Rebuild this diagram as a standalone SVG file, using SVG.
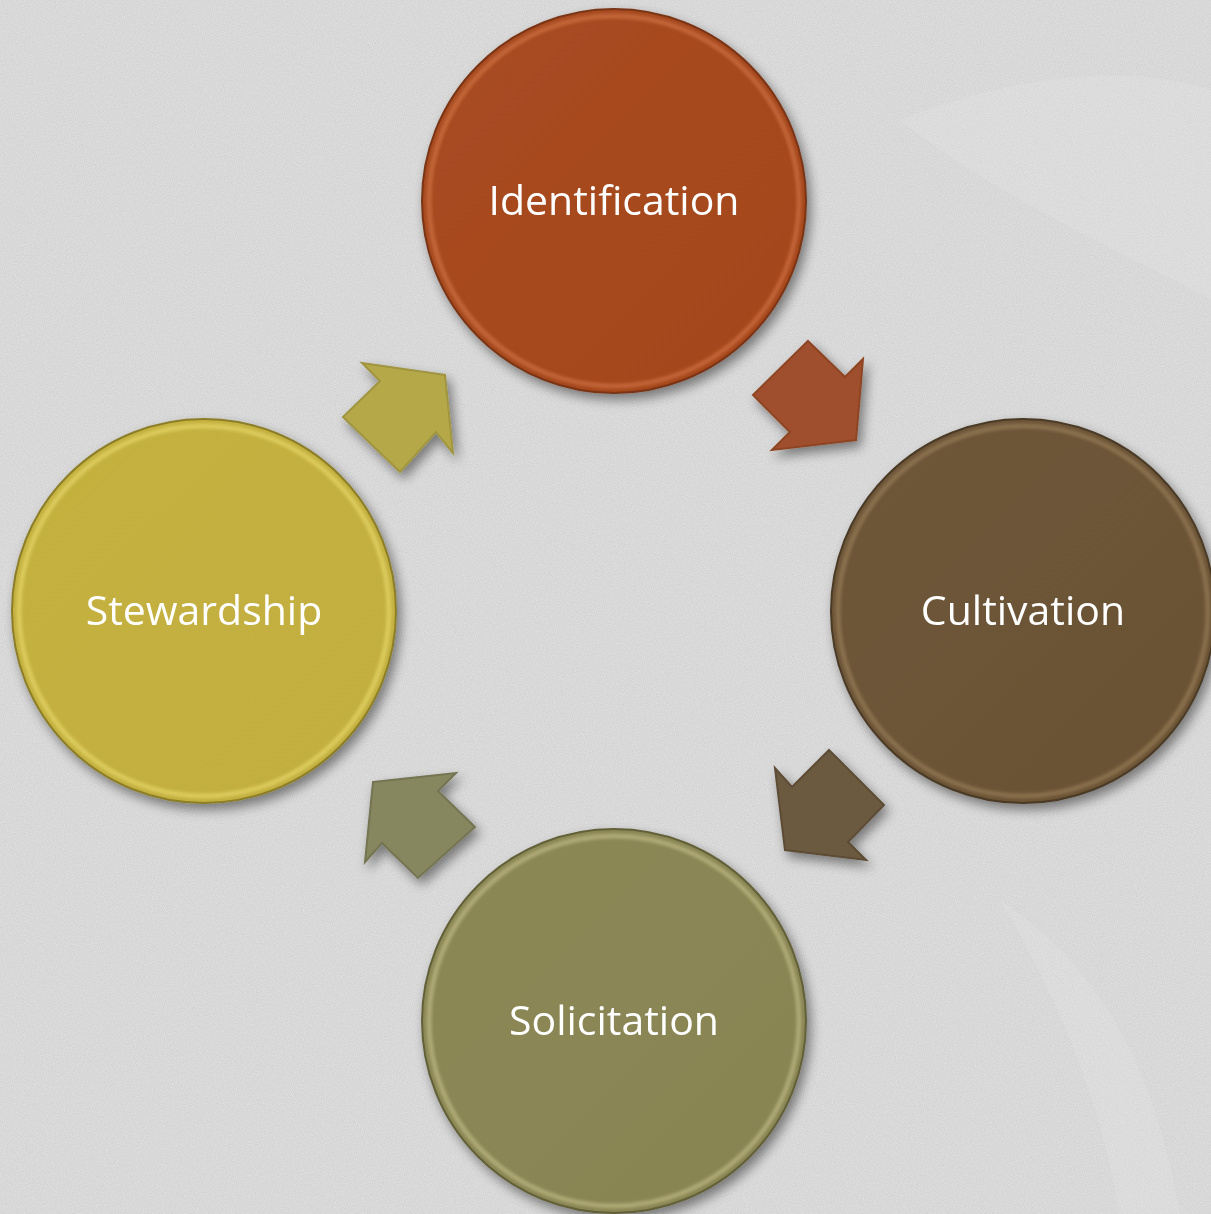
<svg xmlns="http://www.w3.org/2000/svg" width="1211" height="1214" viewBox="0 0 1211 1214">
<defs>
<filter id="tex" x="0" y="0" width="100%" height="100%">
<feTurbulence type="fractalNoise" baseFrequency="0.9" numOctaves="2" seed="3" result="n"/>
<feColorMatrix in="n" type="matrix" values="0 0 0 0 1  0 0 0 0 1  0 0 0 0 1  0 0 0 0.4 0" result="w"/>
<feComposite in="w" in2="SourceGraphic" operator="over"/>
</filter>
<filter id="sh" x="-20%" y="-20%" width="140%" height="140%">
<feGaussianBlur in="SourceAlpha" stdDeviation="6"/>
<feOffset dx="4" dy="6" result="b"/>
<feComponentTransfer><feFuncA type="linear" slope="0.45"/></feComponentTransfer>
<feMerge><feMergeNode/><feMergeNode in="SourceGraphic"/></feMerge>
</filter>
<filter id="soft"><feGaussianBlur stdDeviation="1.5"/></filter>
<linearGradient id="gI" x1="0" y1="0" x2="1" y2="1"><stop offset="0" stop-color="#a84c22"/><stop offset="1" stop-color="#a4461a"/></linearGradient>
<linearGradient id="gC" x1="0" y1="0" x2="1" y2="1"><stop offset="0" stop-color="#6e5639"/><stop offset="1" stop-color="#6a5234"/></linearGradient>
<linearGradient id="gS" x1="0" y1="0" x2="1" y2="1"><stop offset="0" stop-color="#8c8856"/><stop offset="1" stop-color="#888452"/></linearGradient>
<linearGradient id="gW" x1="0" y1="0" x2="1" y2="1"><stop offset="0" stop-color="#c4b13e"/><stop offset="1" stop-color="#c2af40"/></linearGradient>
</defs>
<style>
.lbl{font-family:"Open Sans","Noto Sans",sans-serif;font-size:41px;fill:#ffffff;text-anchor:middle}
.rim{fill:none;stroke-width:5}
.edge{stroke-width:2}
.arr{stroke-width:2;stroke-linejoin:miter}
</style>
<rect width="1211" height="1214" fill="#cdcdcd" filter="url(#tex)"/>
<g opacity="0.15" fill="#efefef">
<path d="M900 120 C1000 80 1120 60 1211 90 L1211 300 C1120 250 1000 200 900 120Z"/>
<path d="M1000 900 C1060 1000 1100 1100 1120 1214 L1180 1214 C1160 1100 1120 980 1000 900Z"/>
</g>
<g id="connectors">
<polygon class="arr" fill="#a0502e" stroke="#8e4424" points="808,341 845,377 863,359 856,440 772,450 790,432 753,395" filter="url(#sh)"/>
<polygon class="arr" fill="#b4a84a" stroke="#a09540" points="362,363 445,375 453,453 436,432 400,472 343,417 380,381" filter="url(#sh)"/>
<polygon class="arr" fill="#6c5a40" stroke="#5c4c35" points="829,750 884,805 848,842 866,860 785,850 775,768 792,787" filter="url(#sh)"/>
<polygon class="arr" fill="#86865f" stroke="#747452" points="373,782 456,773 438,791 475,827 418,878 382,843 365,862" filter="url(#sh)"/>
</g>
<g id="identification" filter="url(#sh)">
<circle cx="614" cy="201" r="192" fill="url(#gI)" stroke="#7a3414" class="edge"/>
<circle cx="614" cy="201" r="185" class="rim" stroke="#d47648" stroke-opacity="0.6" filter="url(#soft)"/>
<text class="lbl" x="614" y="215">Identification</text>
</g>
<g id="cultivation" filter="url(#sh)">
<circle cx="1023" cy="611" r="192" fill="url(#gC)" stroke="#4a3a26" class="edge"/>
<circle cx="1023" cy="611" r="185" class="rim" stroke="#9c825c" stroke-opacity="0.6" filter="url(#soft)"/>
<text class="lbl" x="1023" y="625">Cultivation</text>
</g>
<g id="solicitation" filter="url(#sh)">
<circle cx="614" cy="1021" r="192" fill="url(#gS)" stroke="#626038" class="edge"/>
<circle cx="614" cy="1021" r="185" class="rim" stroke="#c4c08a" stroke-opacity="0.6" filter="url(#soft)"/>
<text class="lbl" x="614" y="1035">Solicitation</text>
</g>
<g id="stewardship" filter="url(#sh)">
<circle cx="204" cy="611" r="192" fill="url(#gW)" stroke="#8c7e28" class="edge"/>
<circle cx="204" cy="611" r="185" class="rim" stroke="#e8d86c" stroke-opacity="0.65" filter="url(#soft)"/>
<text class="lbl" x="204" y="625">Stewardship</text>
</g>
</svg>
